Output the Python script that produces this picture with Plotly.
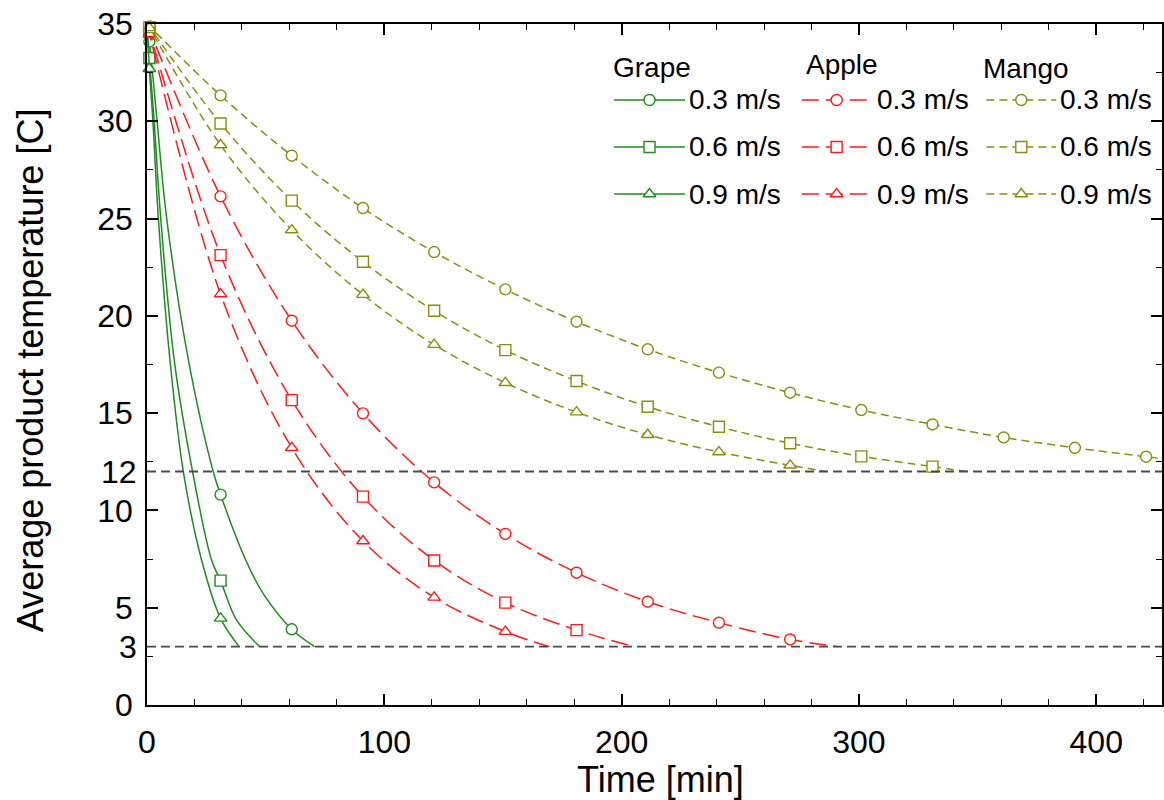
import plotly.graph_objects as go

# ---------------------------------------------------------------
# Cooling curves: average product temperature vs. time
# ---------------------------------------------------------------
speeds = ["0.3 m/s", "0.6 m/s", "0.9 m/s"]
products = ["Grape", "Apple", "Mango"]

# Grape
grape_03_t = [0, 1, 4.1, 8.3, 17.5, 27.9, 31, 41.6, 48.9, 61, 70.6]
grape_03_T = [35, 34.1, 30.2, 25.0, 17.7, 12.0, 10.81, 7.45, 5.74, 3.89, 3.0]
grape_06_t = [0, 1, 2.9, 5.8, 11.5, 19.2, 27.2, 31, 37.7, 47.5]
grape_06_T = [35, 33.25, 30.2, 25.0, 17.7, 12.0, 7.45, 6.39, 4.37, 3.0]
grape_09_t = [0, 1, 2.4, 4.8, 9.7, 15.3, 23, 31, 38.8]
grape_09_T = [35, 32.7, 30.2, 25.0, 17.7, 12.0, 7.45, 4.45, 3.0]

# Apple
apple_03_t = [0, 1, 31, 61, 91, 121, 151, 181, 211, 241, 271, 291.4]
apple_03_T = [35, 34.7, 26.14, 19.75, 14.99, 11.44, 8.79, 6.80, 5.31, 4.23, 3.37, 3.0]
apple_06_t = [0, 1, 31, 61, 91, 121, 151, 181, 205.2]
apple_06_T = [35, 34.6, 23.12, 15.67, 10.71, 7.43, 5.26, 3.85, 3.0]
apple_09_t = [0, 1, 31, 61, 91, 121, 151, 169.5]
apple_09_T = [35, 34.5, 21.12, 13.22, 8.43, 5.53, 3.77, 3.0]

# Mango
mango_03_t = [0, 1, 31, 61, 91, 121, 151, 181, 211, 241, 271, 301, 331, 361, 391, 421, 428]
mango_03_T = [35, 34.88, 31.33, 28.23, 25.54, 23.28, 21.36, 19.70, 18.28, 17.08, 16.05,
              15.16, 14.42, 13.75, 13.22, 12.76, 12.66]
mango_06_t = [0, 1, 31, 61, 91, 121, 151, 181, 211, 241, 271, 301, 331, 345.4]
mango_06_T = [35, 34.84, 29.89, 25.92, 22.78, 20.26, 18.24, 16.65, 15.33, 14.30, 13.45,
              12.78, 12.25, 12.0]
mango_09_t = [0, 1, 31, 61, 91, 121, 151, 181, 211, 241, 271, 286.5]
mango_09_T = [35, 34.8, 28.78, 24.41, 21.09, 18.52, 16.56, 15.05, 13.89, 13.00, 12.32, 12.0]

# target temperatures marked with dashed lines
threshold_levels = [3, 12]

x_ticks = [0, 100, 200, 300, 400]
y_ticks = [0, 5, 10, 15, 20, 25, 30, 35]
y_extra_labels = [3, 12]

series = {
    ("Grape", "0.3 m/s"): (grape_03_t, grape_03_T),
    ("Grape", "0.6 m/s"): (grape_06_t, grape_06_T),
    ("Grape", "0.9 m/s"): (grape_09_t, grape_09_T),
    ("Apple", "0.3 m/s"): (apple_03_t, apple_03_T),
    ("Apple", "0.6 m/s"): (apple_06_t, apple_06_T),
    ("Apple", "0.9 m/s"): (apple_09_t, apple_09_T),
    ("Mango", "0.3 m/s"): (mango_03_t, mango_03_T),
    ("Mango", "0.6 m/s"): (mango_06_t, mango_06_T),
    ("Mango", "0.9 m/s"): (mango_09_t, mango_09_T),
}

# ---------------------------------------------------------------
# Styling
# ---------------------------------------------------------------
FONT = "Liberation Sans, Arial, sans-serif"
colors = {"Grape": "#1f8c1f", "Apple": "#ff1a1a", "Mango": "#8c8c10"}
dashes = {"Grape": "solid", "Apple": "17px,7px", "Mango": "8px,5px"}
symbols = {"0.3 m/s": "circle", "0.6 m/s": "square", "0.9 m/s": "triangle-up"}
MSIZE = 11
TICK_SIZE = 32
LEG_SIZE = 28

W, H = 1164, 800
ML, MT, MB, MR = 147, 24, 95, 0
PW = W - ML - MR
PH = H - MT - MB
x_max = 427.7


def px_x(p):
    """pixel column -> paper fraction"""
    return (p - ML) / PW


def px_y(p):
    """pixel row -> paper fraction"""
    return (H - MB - p) / PH


fig = go.Figure()

for (prod, spd), (ts, Ts) in series.items():
    c = colors[prod]
    fig.add_trace(go.Scatter(
        x=ts, y=Ts, mode="lines",
        line=dict(color=c, width=1.5, dash=dashes[prod], shape="spline", smoothing=1.0),
        showlegend=False, hoverinfo="skip"))
    mk_t = [t for t in ts if float(t).is_integer() and (t - 1) % 30 == 0]
    mk_T = [v for t, v in zip(ts, Ts) if float(t).is_integer() and (t - 1) % 30 == 0]
    fig.add_trace(go.Scatter(
        x=mk_t, y=mk_T, mode="markers",
        marker=dict(symbol=symbols[spd], size=MSIZE, color="white",
                    line=dict(color=c, width=1.4)),
        showlegend=False, cliponaxis=False, name=f"{prod} {spd}"))

# dashed target-temperature lines
for lvl in threshold_levels:
    fig.add_shape(type="line", xref="paper", x0=0, x1=1, yref="y", y0=lvl, y1=lvl,
                  line=dict(color="#4a4a4a", width=1.8, dash="9px,5px"))

# ---------------------------------------------------------------
# Legend block (three columns, drawn on an overlay axis)
# ---------------------------------------------------------------
legend_cols = {
    # header x, header y, line start, line end, text x
    "Grape": (612, 68, 615, 686, 688),
    "Apple": (805, 64, 803, 873, 876),
    "Mango": (983, 69, 988, 1058, 1060),
}
legend_rows = [100, 147, 194]

annotations = []
for prod, (hx, hy, lx0, lx1, tx) in legend_cols.items():
    c = colors[prod]
    annotations.append(dict(xref="paper", yref="paper", x=px_x(hx), y=px_y(hy),
                            xanchor="left", yanchor="middle", text=prod, showarrow=False,
                            font=dict(size=LEG_SIZE, color="black", family=FONT)))
    for spd, ry in zip(speeds, legend_rows):
        fig.add_trace(go.Scatter(
            x=[px_x(lx0), px_x(lx1)], y=[px_y(ry), px_y(ry)], mode="lines",
            xaxis="x2", yaxis="y2",
            line=dict(color=c, width=1.5, dash=dashes[prod]),
            showlegend=False, hoverinfo="skip"))
        fig.add_trace(go.Scatter(
            x=[px_x((lx0 + lx1) / 2)], y=[px_y(ry)], mode="markers",
            xaxis="x2", yaxis="y2",
            marker=dict(symbol=symbols[spd], size=MSIZE, color="white",
                        line=dict(color=c, width=1.4)),
            showlegend=False, hoverinfo="skip", cliponaxis=False))
        annotations.append(dict(xref="paper", yref="paper", x=px_x(tx), y=px_y(ry),
                                xanchor="left", yanchor="middle", text=spd, showarrow=False,
                                font=dict(size=LEG_SIZE, color="black", family=FONT)))

# extra y labels without ticks
for v in y_extra_labels:
    annotations.append(dict(xref="paper", yref="y", x=px_x(139), y=v,
                            xanchor="right", yanchor="middle", text=str(v), showarrow=False,
                            font=dict(size=TICK_SIZE, color="black", family=FONT)))

# axis titles
annotations.append(dict(xref="paper", yref="paper", x=px_x(662), y=px_y(779),
                        xanchor="center", yanchor="middle", text="Time [min]",
                        showarrow=False, font=dict(size=36, color="black", family=FONT)))
annotations.append(dict(xref="paper", yref="paper", x=px_x(31), y=px_y(370),
                        xanchor="center", yanchor="middle", textangle=-90,
                        text="Average product temperature [C]",
                        showarrow=False, font=dict(size=36, color="black", family=FONT)))

axis_common = dict(
    showgrid=False, zeroline=False, showline=True, linecolor="black", linewidth=1.5,
    mirror="ticks", ticks="inside", ticklen=11, tickwidth=1.5, tickcolor="black",
    tickfont=dict(size=TICK_SIZE, color="black", family=FONT),
)

fig.update_layout(
    width=W, height=H,
    margin=dict(l=ML, r=MR, t=MT, b=MB, pad=0),
    paper_bgcolor="white", plot_bgcolor="white",
    font=dict(family=FONT, color="black"),
    xaxis=dict(range=[0, x_max], tickvals=x_ticks, ticktext=[str(v) for v in x_ticks],
               minor=dict(dtick=20, tick0=0, ticks="inside", ticklen=6, tickwidth=1.2,
                          tickcolor="black"),
               ticklabelstandoff=8, **axis_common),
    yaxis=dict(range=[0, 35], tickvals=y_ticks, ticktext=[str(v) for v in y_ticks],
               minor=dict(dtick=2.5, tick0=0, ticks="inside", ticklen=6, tickwidth=1.2,
                          tickcolor="black"),
               ticklabelstandoff=6, **axis_common),
    xaxis2=dict(range=[0, 1], domain=[0, 1], overlaying="x", anchor="y2", visible=False),
    yaxis2=dict(range=[0, 1], domain=[0, 1], overlaying="y", anchor="x2", visible=False),
    annotations=annotations,
    showlegend=False,
)

fig.write_html("out.html")
